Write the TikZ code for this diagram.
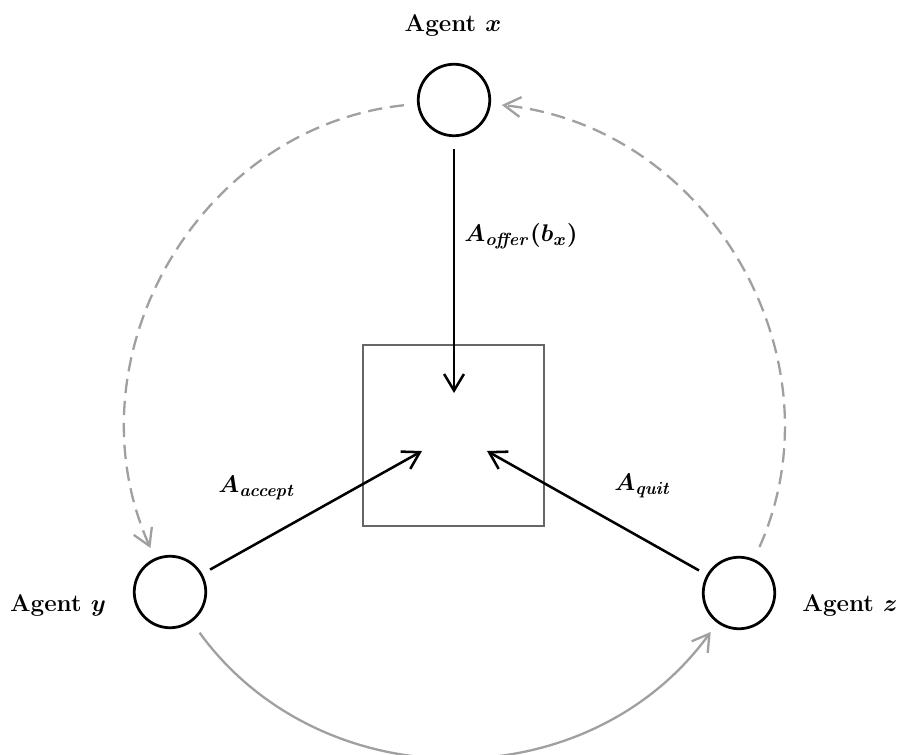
\documentclass[tikz,border=0pt]{standalone}
\usetikzlibrary{arrows.meta}
\definecolor{arcgray}{HTML}{A0A0A0}
\definecolor{boxgray}{HTML}{666666}
\begin{document}
\begin{tikzpicture}[x=0.4545pt, y=0.4545pt,
  agent/.style={circle, draw=black, line width=1.25pt, minimum size=32.5pt, inner sep=0pt},
  lbl/.style={font=\fontsize{11}{13}\selectfont\bfseries\boldmath, inner sep=0pt},
  boxnode/.style={draw=boxgray, line width=1.05pt, minimum size=82.3pt, inner sep=0pt},
  conn/.style={line width=1.15pt, -{Straight Barb[length=7.5pt, width=9pt, line width=1.15pt]}},
  arcline/.style={arcgray, line width=1.05pt, -{Straight Barb[length=7.5pt, width=9pt, line width=1.05pt]}, shorten <=6pt, shorten >=5pt},
  dasharc/.style={arcline, dash pattern=on 6.5pt off 3.5pt}
]
\useasboundingbox (0,0) rectangle (900,-755);
\node[agent] (x) at (454,-100) {};
\node[agent] (y) at (170,-592) {};
\node[agent] (z) at (739,-593) {};
\node[lbl] (lx) at (453,-25) {Agent $x$};
\node[lbl] (ly) at (58,-605) {Agent $y$};
\node[lbl] (lz) at (850,-605) {Agent $z$};
\node[boxnode] (box) at (453.5,-435.5) {};
\coordinate (tx) at (454,-393);
\coordinate (ty) at (422,-451);
\coordinate (tz) at (487,-451);
\draw[conn, shorten <=5.5pt] (x) -- (tx);
\draw[conn, shorten <=4pt] (y) -- (ty);
\draw[conn, shorten <=4pt] (z) -- (tz);
\node[lbl] (loffer) at (521,-236) {$A_{\mathit{offer}}(b_x)$};
\node[lbl] (laccept) at (257,-488) {$A_{\mathit{accept}}$};
\node[lbl] (lquit) at (643,-486) {$A_{\mathit{quit}}$};
\draw[dasharc] (x) to[out=186, in=114, looseness=1.07] (y);
\draw[dasharc] (z) to[out=66, in=354, looseness=1.07] (x);
\draw[arcline] (y) to[out=306, in=234, looseness=1.07] (z);
\end{tikzpicture}
\end{document}
